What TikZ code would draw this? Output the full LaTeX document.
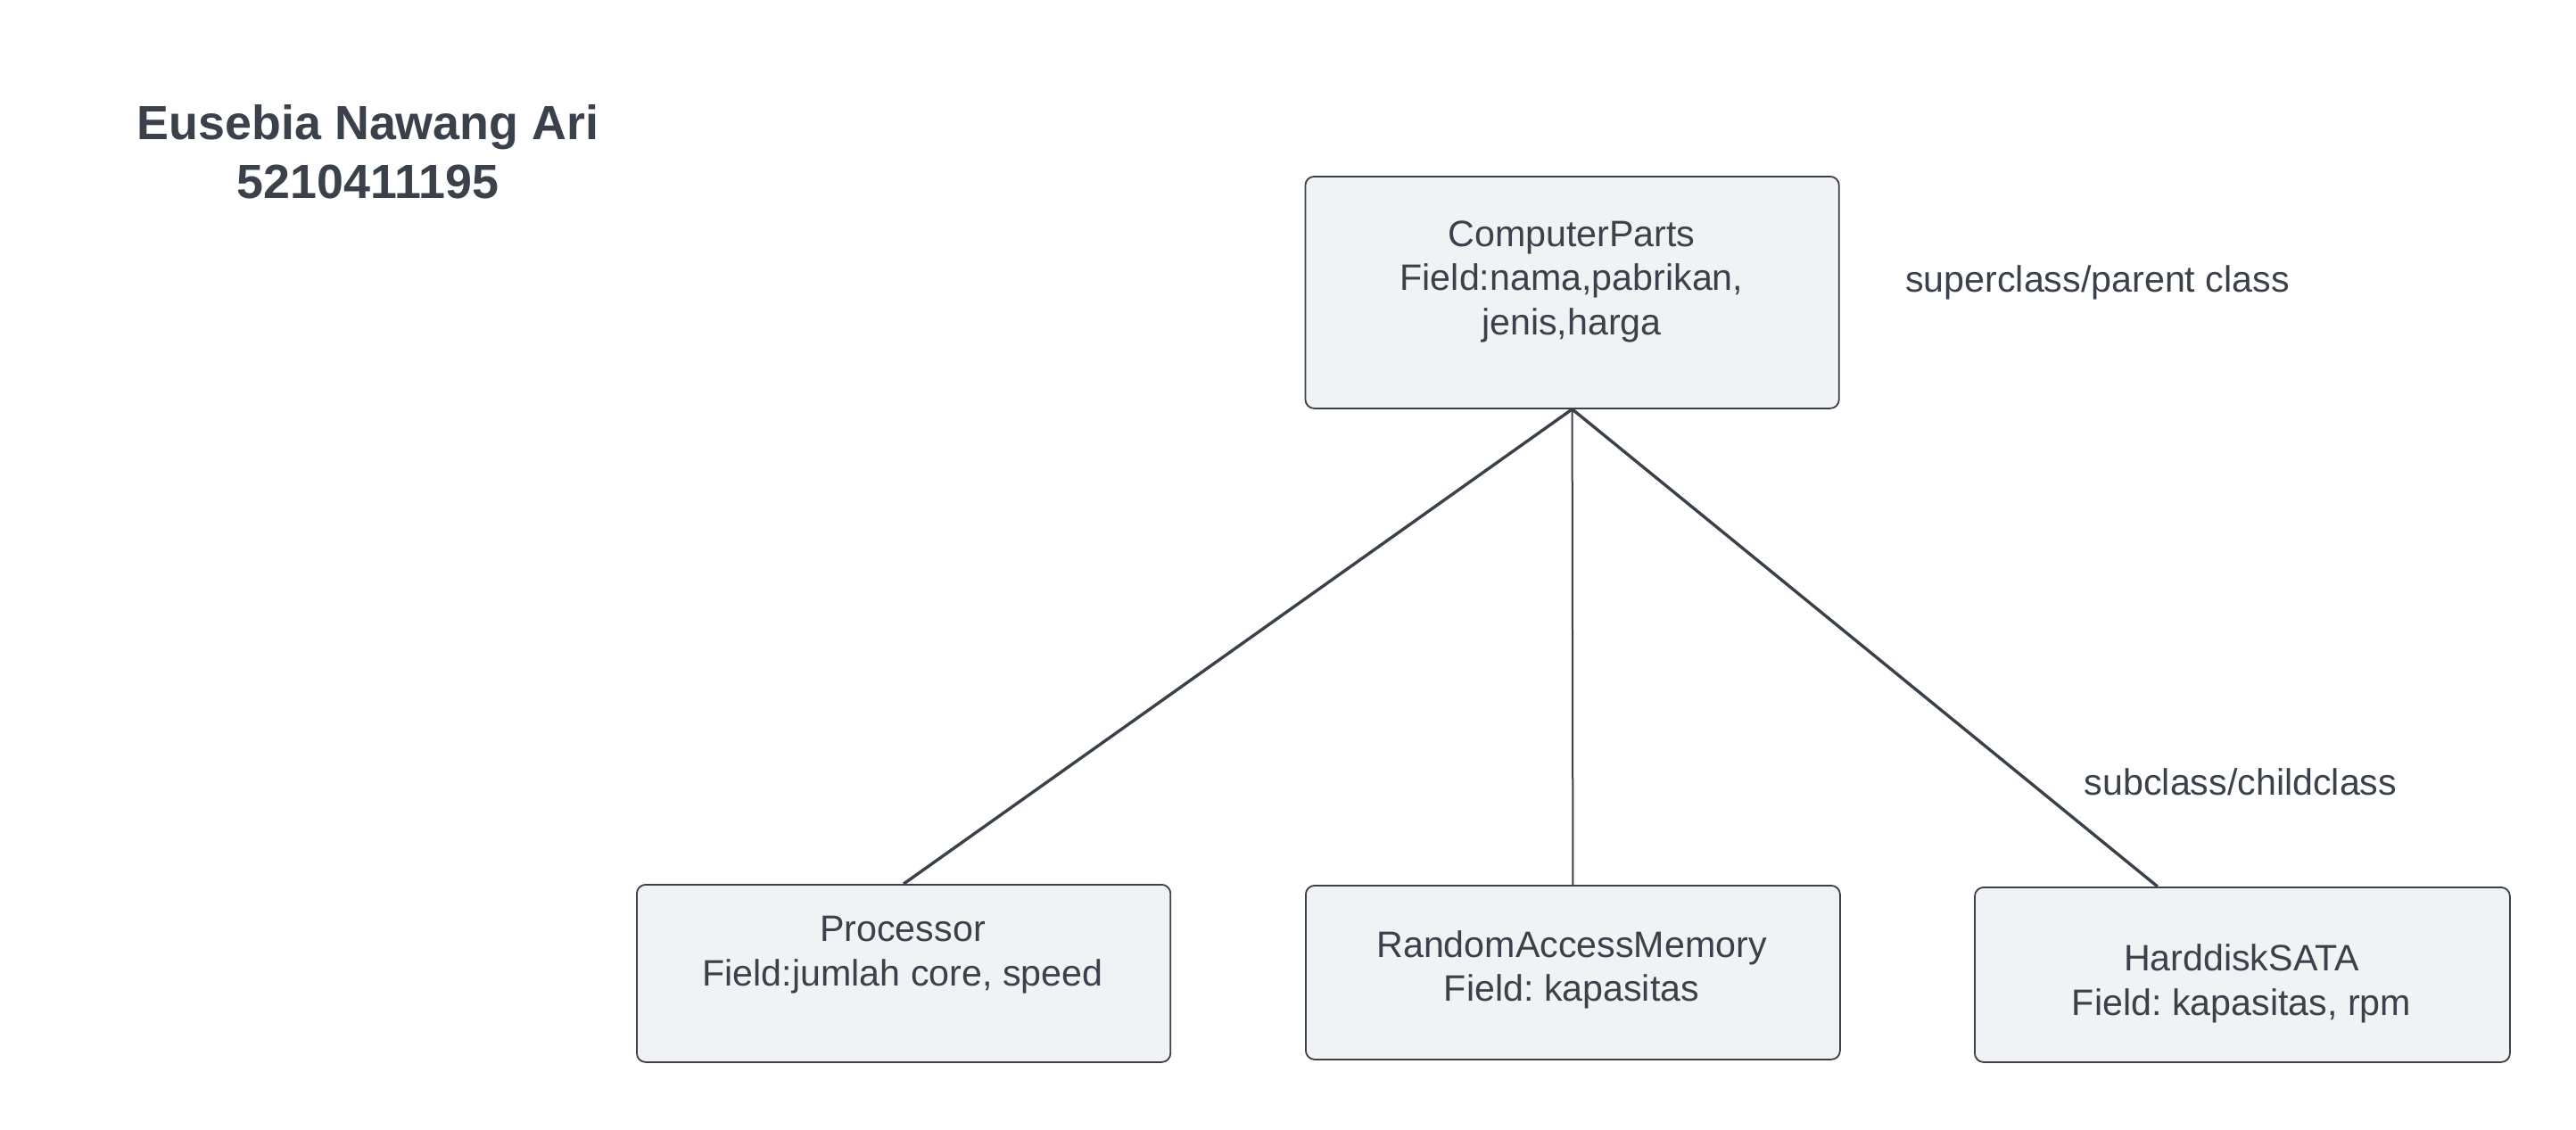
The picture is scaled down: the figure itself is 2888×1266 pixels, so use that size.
\documentclass[tikz,border=0pt]{standalone}
\usepackage{fontspec}
\setmainfont{Liberation Sans}
\usetikzlibrary{calc}
\frenchspacing
\definecolor{ink}{HTML}{3A414A}
\definecolor{boxfill}{HTML}{F0F2F3}
\tikzset{
  classbox/.style={draw=ink, fill=boxfill, line width=0.45pt, rounded corners=2.5pt,
    rectangle, inner sep=0pt, anchor=north west},
  boxtext/.style={text=ink, align=center, inner sep=0pt,
    font=\frenchspacing\fontsize{10.3pt}{12.4pt}\selectfont},
  note/.style={text=ink, inner sep=0pt, anchor=base,
    font=\fontsize{10.3pt}{12.4pt}\selectfont},
  titletext/.style={text=ink, align=center, inner sep=0pt,
    font=\bfseries\fontsize{13.45pt}{16.5pt}\selectfont},
  thickedge/.style={draw=ink, line width=0.85pt},
  thinedge/.style={draw=ink, line width=0.5pt},
}
\begin{document}
\begin{tikzpicture}[x=0.25pt, y=-0.25pt]
\useasboundingbox (0,0) rectangle (2888,1266);
% boxes
\node[classbox, minimum width=149.6pt, minimum height=65pt] (cp) at (1462.5,197) {};
\node[classbox, minimum width=149.6pt, minimum height=49.75pt] (proc) at (713,991) {};
\node[classbox, minimum width=149.75pt, minimum height=48.75pt] (ram) at (1463,992) {};
\node[classbox, minimum width=150pt, minimum height=49pt] (hdd) at (2213,994) {};
% texts
\node[boxtext] (cpt) at (1762,315.8) {ComputerParts\\Field:nama,pabrikan,\\jenis,harga};
\node[boxtext] (proct) at (1012,1070.8) {Processor\\Field:jumlah core, speed};
\node[boxtext] (ramt) at (1762,1087.3) {RandomAccessMemory\\Field: kapasitas};
\node[boxtext] (hddt) at (2513,1102.8) {HarddiskSATA\\Field: kapasitas, rpm};
\node[titletext] (title) at (412.6,170.7) {Eusebia Nawang Ari\\5210411195};
\node[note] (super) at (2351.5,327) {superclass/parent class};
\node[note] (sub) at (2512,891) {subclass/childclass};
% connectors
\coordinate (hddtop) at ($(hdd.north west)!0.342!(hdd.north east)$);
\draw[thickedge] (cp.south) -- (proc.north);
\draw[thinedge] (cp.south) -- (ram.north);
\draw[thickedge] (cp.south) -- (hddtop);
\end{tikzpicture}
\end{document}
